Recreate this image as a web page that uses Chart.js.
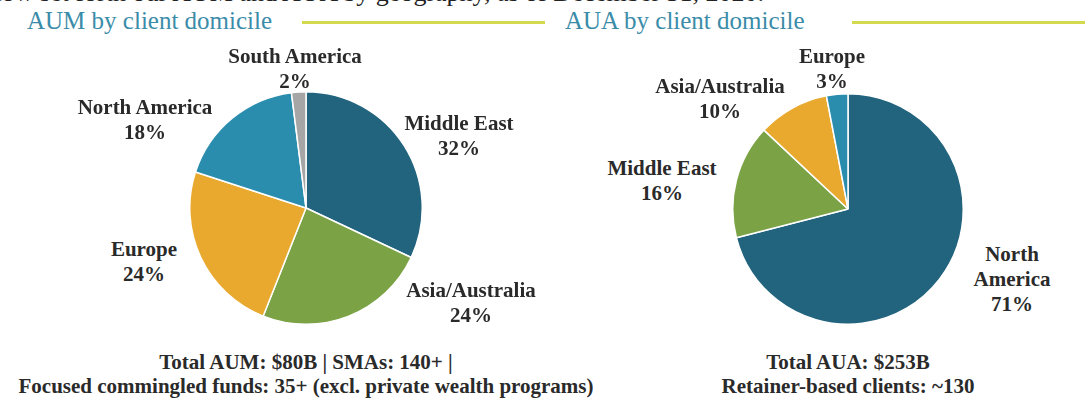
<!DOCTYPE html>
<html>
<head>
<meta charset="utf-8">
<script src="https://cdn.jsdelivr.net/npm/chart.js@4"></script>
<style>
  html,body{margin:0;padding:0;background:#fff;}
  body{width:1085px;height:401px;position:relative;overflow:hidden;font-family:"Liberation Serif","Times New Roman",serif;}
  .abs{position:absolute;white-space:nowrap;}
  .title{font-size:25px;color:#3b8ca8;line-height:30px;}
  .rule{position:absolute;height:3px;background:#d3da4e;}
  .lbl{font-weight:bold;font-size:21px;color:#2a2a2a;line-height:25px;text-align:center;transform:translateX(-50%);}
  .foot{font-weight:bold;font-size:21px;color:#2a2a2a;line-height:24px;text-align:center;transform:translateX(-50%);}
  .lead{font-size:26px;line-height:30px;color:#222;top:-22px;left:-30px;}
  canvas{position:absolute;}
</style>
</head>
<body>
<div class="abs lead">below set forth our AUM and AUA by geography, as of December 31, 2020.</div>

<div class="abs title" style="left:27px;top:6px;">AUM by client domicile</div>
<div class="rule" style="left:302px;top:21px;width:243px;"></div>
<div class="abs title" style="left:565px;top:6px;">AUA by client domicile</div>
<div class="rule" style="left:852px;top:21px;width:233px;"></div>

<canvas id="aumChart" width="234" height="234" style="left:189px;top:91px;"></canvas>
<canvas id="auaChart" width="232" height="232" style="left:732px;top:93px;"></canvas>

<div id="labels"></div>

<div class="abs foot" style="left:306px;top:350px;">Total AUM: $80B | SMAs: 140+ |<br>Focused commingled funds: 35+ (excl. private wealth programs)</div>
<div class="abs foot" style="left:848px;top:350px;">Total AUA: $253B<br>Retainer-based clients: ~130</div>

<script>
// AUM by client domicile (clockwise from 12 o'clock)
const aumCategories = ['Middle East', 'Asia/Australia', 'Europe', 'North America', 'South America'];
const aumValues = [32, 24, 24, 18, 2];
// AUA by client domicile
const auaCategories = ['North America', 'Middle East', 'Asia/Australia', 'Europe'];
const auaValues = [71, 16, 10, 3];

const aumColors = ['#22637e', '#7ba346', '#e9a92f', '#2a8dae', '#a6a6a6'];
const auaColors = ['#22637e', '#7ba346', '#e9a92f', '#2a8dae'];

// label layout (center x, top y) for each slice label
const aumLabelPos = [[459, 111], [471, 278], [144, 237], [145, 95], [295, 44]];
const auaLabelPos = [[1012, 242], [662, 156], [720, 74], [832, 44]];

function makePie(id, labels, values, colors){
  new Chart(document.getElementById(id), {
    type: 'pie',
    data: { labels, datasets: [{ data: values, backgroundColor: colors, borderColor: '#fff', borderWidth: 1.5, hoverOffset: 0 }] },
    options: {
      responsive: false, animation: false,
      layout: { padding: 0 },
      plugins: { legend: { display: false }, tooltip: { enabled: false } }
    }
  });
}

function addLabels(labels, values, pos){
  const box = document.getElementById('labels');
  labels.forEach((name, i)=>{
    const d = document.createElement('div');
    d.className = 'abs lbl';
    d.style.left = pos[i][0] + 'px';
    d.style.top = pos[i][1] + 'px';
    // long name on the right side of AUA wraps to two lines
    const txt = (name === 'North America' && labels === auaCategories) ? 'North<br>America' : name;
    d.innerHTML = `${txt}<br>${values[i]}%`;
    box.appendChild(d);
  });
}

makePie('aumChart', aumCategories, aumValues, aumColors);
makePie('auaChart', auaCategories, auaValues, auaColors);
addLabels(aumCategories, aumValues, aumLabelPos);
addLabels(auaCategories, auaValues, auaLabelPos);
</script>
</body>
</html>
